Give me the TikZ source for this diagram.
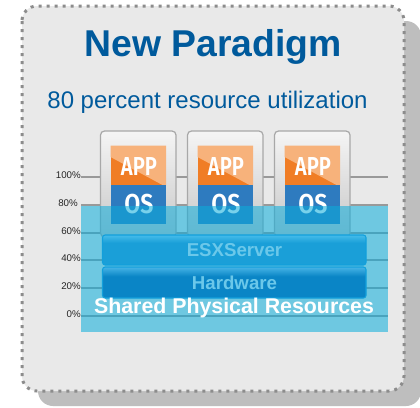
\documentclass[tikz,border=0pt]{standalone}
\usepackage{fontspec}
\setmainfont{Liberation Sans}
\newfontfamily\appfont{Fira Sans}[BoldFont={Fira Sans SemiBold}]
\usetikzlibrary{calc}
\definecolor{titleblue}{HTML}{005A9C}
\definecolor{panelfill}{HTML}{E9E9E9}
\definecolor{paneldots}{HTML}{8C8C8C}
\definecolor{shadowgrey}{HTML}{BEBEBE}
\definecolor{gridgrey}{HTML}{999999}
\definecolor{cardedge}{HTML}{A8A8A8}
\definecolor{overlaycyan}{HTML}{0AADDC}
\definecolor{appdark}{HTML}{F07D25}
\definecolor{applight}{HTML}{F7B27B}
\definecolor{osblue}{HTML}{2E7BBF}
\definecolor{barlabel}{HTML}{6BC8EA}
\definecolor{baredge}{HTML}{12A0DC}
\definecolor{esxmain}{HTML}{1A9FD8}
\definecolor{esxtop}{HTML}{45BCEA}
\definecolor{hwmain}{HTML}{0A85C6}
\definecolor{hwtop}{HTML}{46B4E6}
\pgfdeclareverticalshading{esxshade}{100bp}{color(0bp)=(esxmain); color(62bp)=(esxmain); color(75bp)=(esxtop); color(100bp)=(esxtop)}
\pgfdeclareverticalshading{hwshade}{100bp}{color(0bp)=(hwmain); color(60bp)=(hwmain); color(75bp)=(hwtop); color(100bp)=(hwtop)}
\tikzset{
  panel/.style={fill=panelfill,draw=paneldots,line width=2.25pt,dash pattern=on 2.25pt off 3.75pt,rounded corners=11.25pt},
  gridline/.style={draw=gridgrey,line width=1.5pt},
  pct/.style={font=\fontsize{7.3}{9}\selectfont,anchor=east,inner sep=0pt,text=black!85},
  card/.style={draw=cardedge,line width=0.9pt,rounded corners=3pt,top color=white!96!black,bottom color=black!22},
  barbox/.style={draw=baredge,line width=0.8pt,rounded corners=2pt},
  barlab/.style={font=\bfseries\fontsize{14}{16}\selectfont,text=barlabel,inner sep=0pt,anchor=base},
  applab/.style={text=white,inner sep=0pt,anchor=base,font=\appfont\bfseries\fontsize{19.5}{22}\selectfont},
  oslab/.style={text=white,inner sep=0pt,anchor=base,font=\appfont\bfseries\fontsize{20.5}{22}\selectfont},
}
\newcommand{\vmstack}[2]{% x-left of the card, name prefix
  \draw[card] (#1,131) rectangle (#1+75.5,237);
  \fill[appdark] (#1+10,145.5) rectangle (#1+65.5,185);
  \fill[applight] (#1+10,145.5) -- (#1+65.5,145.5) -- (#1+65.5,185) -- (#1+62,185) -- (#1+10,157) -- cycle;
  \fill[osblue] (#1+10,185) rectangle (#1+65.5,224);
  \node[applab] (#2app) at (#1+38.5,175) {\scalebox{0.78}[1]{APP}};
  \node[oslab] (#2os) at (#1+38.5,213) {\scalebox{0.85}[1]{OS}};
}
\begin{document}
\begin{tikzpicture}[x=0.75pt,y=-0.75pt]
\useasboundingbox (0,0) rectangle (420,407);
\fill[white] (0,0) rectangle (420,407);
\fill[shadowgrey,rounded corners=11.25pt] (38,21) rectangle (421,406);
\path[panel] (22,6) rectangle (404,391);
\node[font=\bfseries\fontsize{28}{32}\selectfont,text=titleblue,inner sep=0pt,anchor=base] (title) at (213,56) {New Paradigm};
\node[font=\fontsize{18}{22}\selectfont,text=titleblue,inner sep=0pt,anchor=base] (subtitle) at (207.5,108) {80 percent resource utilization};
\foreach \yy in {177,205,233,260,288,316}{\draw[gridline] (81,\yy) -- (388,\yy);}
\node[pct] (p100) at (81,175) {100\%};
\node[pct] (p80) at (78,203) {80\%};
\node[pct] (p60) at (81,231) {60\%};
\node[pct] (p40) at (81,258) {40\%};
\node[pct] (p20) at (81,286) {20\%};
\node[pct] (p0) at (81,314) {0\%};
\vmstack{100.5}{a}
\vmstack{187.5}{b}
\vmstack{274.5}{c}
\fill[overlaycyan,opacity=0.55] (81,206) rectangle (388,332);
\draw[barbox,shading=esxshade] (102.5,235) rectangle (366,265);
\draw[barbox,shading=hwshade] (102.5,267) rectangle (366,298);
\node[barlab] (esx) at (234.5,256) {ESXServer};
\node[barlab] (hw) at (234.5,289) {Hardware};
\node[font=\bfseries\fontsize{16}{18}\selectfont,text=white,inner sep=0pt,anchor=base] (shared) at (234,313.5) {Shared Physical Resources};
\end{tikzpicture}
\end{document}
